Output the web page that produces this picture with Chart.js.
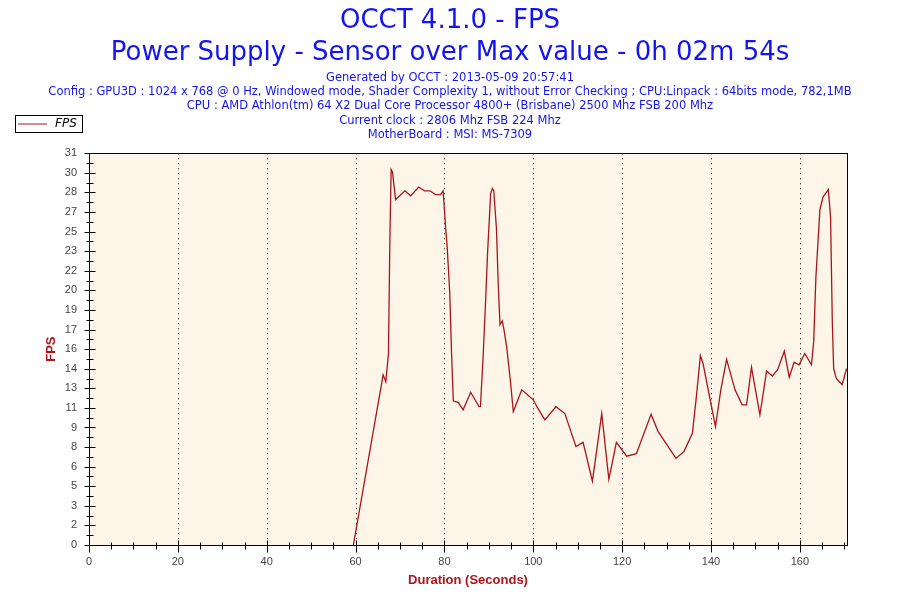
<!DOCTYPE html>
<html>
<head>
<meta charset="utf-8">
<script src="https://cdn.jsdelivr.net/npm/chart.js@4.4.1/dist/chart.umd.min.js"></script>
<style>
  body { margin: 0; background: #fff; }
  #wrap { width: 900px; height: 600px; }
</style>
</head>
<body>
<div id="wrap"><canvas id="myChart" width="900" height="600"></canvas></div>
<script>
// tempi (secondi) e valori FPS
const times = [59.5, 66.2, 66.8, 67.4, 67.7, 68.0, 68.3, 69.0, 71.1, 72.4,
  74.2, 75.5, 76.7, 78.0, 79.1, 79.7, 80.3, 80.6, 81.2, 81.6,
  82.0, 83.1, 84.2, 85.9, 87.8, 88.1, 88.7, 89.2, 89.7, 90.4,
  90.8, 91.1, 91.7, 92.1, 92.5, 93.0, 93.3, 94.0, 94.9, 95.5,
  96.2, 97.4, 100.0, 100.8, 102.6, 105.1, 107.1, 109.6, 111.2, 113.3,
  115.4, 117.0, 118.7, 121.0, 123.2, 126.5, 128.1, 132.1, 133.9, 135.8,
  136.7, 137.6, 138.2, 141.0, 142.2, 143.5, 145.4, 147.0, 148.0, 149.1,
  151.0, 152.5, 153.8, 155.0, 156.5, 157.6, 158.7, 159.8, 161.1, 162.6,
  163.1, 163.6, 164.5, 165.2, 166.4, 166.9, 167.3, 167.6, 168.2, 169.5,
  170.5];
const fps = [0, 13.6, 13.05, 15.3, 24.0, 30.0, 29.8, 27.6, 28.3, 27.9,
  28.6, 28.3, 28.3, 28.0, 28.0, 28.3, 25.2, 23.9, 20.1, 15.3,
  11.5, 11.4, 10.8, 12.2, 11.05, 11.05, 15.05, 19.0, 23.3, 28.1,
  28.5, 28.3, 25.3, 20.9, 17.6, 17.9, 17.4, 15.85, 12.9, 10.65,
  11.3, 12.4, 11.6, 11.05, 10.0, 11.05, 10.5, 7.86, 8.2, 5.1,
  10.5, 5.25, 8.2, 7.1, 7.3, 10.45, 9.06, 6.93, 7.46, 8.93,
  11.85, 15.13, 14.5, 9.46, 12.4, 14.84, 12.4, 11.2, 11.2, 14.2,
  10.4, 13.9, 13.5, 14.0, 15.5, 13.4, 14.6, 14.4, 15.3, 14.4,
  16.25, 21.4, 26.8, 27.8, 28.4, 26.2, 17.7, 14.1, 13.3, 12.8,
  14.1];
// etichette asse y come stampate da OCCT (arrotondate)
const yTickLabels = [0, 2, 3, 5, 6, 8, 9, 11, 13, 14, 16, 17, 19, 20, 22, 23, 25, 27, 28, 30, 31];
const xTickLabels = [0, 20, 40, 60, 80, 100, 120, 140, 160];
const yMax = 31.3;
const xMax = 170.6;

const titleLines = ["OCCT 4.1.0 - FPS", "Power Supply - Sensor over Max value - 0h 02m 54s"];
const infoLines = [
  "Generated by OCCT : 2013-05-09 20:57:41",
  "Config : GPU3D : 1024 x 768 @ 0 Hz, Windowed mode, Shader Complexity 1, without Error Checking ; CPU:Linpack : 64bits mode, 782,1MB",
  "CPU : AMD Athlon(tm) 64 X2 Dual Core Processor 4800+ (Brisbane) 2500 Mhz FSB 200 Mhz",
  "Current clock : 2806 Mhz FSB 224 Mhz",
  "MotherBoard : MSI: MS-7309"
];

const lineColor = "#a8141c";
const axisRed = "#b0141c";
const headFont = "'DejaVu Sans', sans-serif";
const tickFont = "'Liberation Sans Narrow', 'Liberation Sans', sans-serif";

// sfondo, griglia punteggiata, cornice, tacche e legenda
const occtFrame = {
  id: "occtFrame",
  beforeDraw(chart) {
    const a = chart.chartArea, ctx = chart.ctx;
    ctx.save();
    ctx.fillStyle = "#fdf6e8";
    ctx.fillRect(a.left, a.top, a.right - a.left, a.bottom - a.top);
    ctx.restore();
  },
  beforeDatasetsDraw(chart) {
    const a = chart.chartArea, ctx = chart.ctx, x = chart.scales.x;
    ctx.save();
    ctx.strokeStyle = "#000";
    ctx.lineWidth = 1;
    ctx.setLineDash([1, 4]);
    xTickLabels.forEach(v => {
      if (v === 0) return;
      const px = Math.round(x.getPixelForValue(v)) + 0.5;
      ctx.beginPath();
      ctx.moveTo(px, a.top);
      ctx.lineTo(px, a.bottom);
      ctx.stroke();
    });
    ctx.restore();
  },
  afterDraw(chart) {
    const a = chart.chartArea, ctx = chart.ctx;
    const x = chart.scales.x, y = chart.scales.y;
    ctx.save();
    ctx.strokeStyle = "#000";
    ctx.lineWidth = 1;
    ctx.strokeRect(Math.round(a.left) + 0.5, Math.round(a.top) + 0.5,
      Math.round(a.right - a.left), Math.round(a.bottom - a.top));
    const L = Math.round(a.left) + 0.5, B = Math.round(a.bottom) + 0.5;
    ctx.beginPath();
    y.ticks.forEach((t, i) => {
      const py = Math.round(y.getPixelForValue(t.value)) + 0.5;
      const major = i % 2 === 0;
      ctx.moveTo(L - (major ? 5 : 3), py);
      ctx.lineTo(L + (major ? 6 : 4), py);
    });
    x.ticks.forEach(t => {
      const px = Math.round(x.getPixelForValue(t.value)) + 0.5;
      const major = t.value % 20 === 0;
      ctx.moveTo(px, B - (major ? 5 : 3));
      ctx.lineTo(px, B + (major ? 7 : 4));
    });
    ctx.stroke();
    // legenda
    ctx.strokeRect(15.5, 115.5, 67, 17);
    ctx.strokeStyle = lineColor;
    ctx.beginPath();
    ctx.moveTo(18, 124);
    ctx.lineTo(47, 124);
    ctx.stroke();
    ctx.fillStyle = "#000";
    ctx.font = "italic 12px " + headFont;
    ctx.textBaseline = "middle";
    ctx.fillText("FPS", 55, 124);
    ctx.restore();
  }
};

const ctx = document.getElementById("myChart");
new Chart(ctx, {
  type: "line",
  data: {
    datasets: [{
      label: "FPS",
      data: times.map((t, i) => ({ x: t, y: fps[i] })),
      borderColor: lineColor,
      borderWidth: 1.3,
      pointRadius: 0,
      tension: 0,
      fill: false
    }]
  },
  options: {
    responsive: false,
    animation: false,
    layout: { padding: 0 },
    plugins: {
      legend: { display: false },
      tooltip: { enabled: false },
      title: {
        display: true,
        text: titleLines,
        color: "#1414f0",
        font: { family: headFont, size: 26, weight: "normal", lineHeight: 1.2 },
        padding: { top: 6, bottom: 2 }
      },
      subtitle: {
        display: true,
        text: infoLines,
        color: "#1414f0",
        font: { family: headFont, size: 11.5, weight: "normal", lineHeight: 1.25 },
        padding: { top: 0, bottom: 11 }
      }
    },
    scales: {
      x: {
        type: "linear",
        min: 0,
        max: xMax,
        afterBuildTicks(scale) {
          const tk = [];
          for (let v = 0; v <= xMax; v += 5) tk.push({ value: v });
          scale.ticks = tk;
        },
        afterFit(scale) { scale.height = 55; },
        grid: { display: false, drawTicks: false },
        border: { display: false },
        ticks: {
          autoSkip: false,
          maxRotation: 0,
          padding: 10,
          color: "#444",
          font: { family: tickFont, size: 11 },
          callback: v => xTickLabels.includes(v) ? v : ""
        },
        title: {
          display: true,
          text: "Duration (Seconds)",
          color: axisRed,
          font: { family: "'Liberation Sans', sans-serif", size: 13, weight: "bold" },
          padding: { top: 0, bottom: 12 }
        }
      },
      y: {
        min: 0,
        max: yMax,
        afterBuildTicks(scale) {
          const tk = [];
          for (let i = 0; i <= 40; i++) tk.push({ value: i * yMax / 40 });
          scale.ticks = tk;
        },
        afterFit(scale) { scale.width = 89; },
        grid: { display: false, drawTicks: false },
        border: { display: false },
        ticks: {
          autoSkip: false,
          padding: 12,
          color: "#444",
          font: { family: tickFont, size: 11 },
          callback: (v, i) => i % 2 === 0 ? yTickLabels[i / 2] : ""
        },
        title: {
          display: true,
          text: "FPS",
          color: axisRed,
          font: { family: "'Liberation Sans', sans-serif", size: 13, weight: "bold" },
          padding: { top: 44, bottom: 0 }
        }
      },
      // margine destro vuoto, come nell'originale
      yRight: {
        position: "right",
        min: 0,
        max: yMax,
        afterFit(scale) { scale.width = 53; },
        grid: { display: false, drawTicks: false },
        border: { display: false },
        ticks: { display: false }
      }
    }
  },
  plugins: [occtFrame]
});
</script>
</body>
</html>
